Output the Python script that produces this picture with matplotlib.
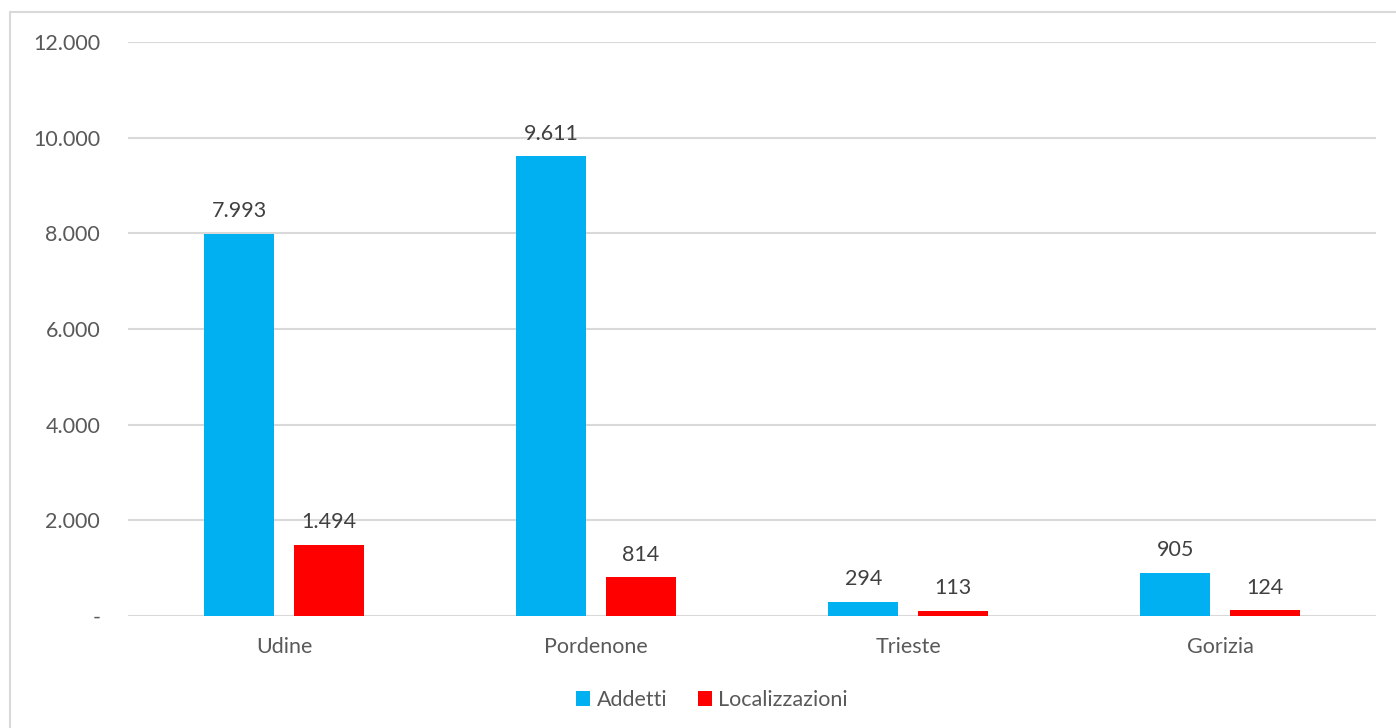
import matplotlib.pyplot as plt
import numpy as np
from matplotlib.patches import Rectangle

plt.rcParams['font.family'] = ['Lato', 'DejaVu Sans']

categories = ['Udine', 'Pordenone', 'Trieste', 'Gorizia']
addetti = [7993, 9611, 294, 905]
localizzazioni = [1494, 814, 113, 124]
yticks = [0, 2000, 4000, 6000, 8000, 10000, 12000]
ytick_labels = ['-', '2.000', '4.000', '6.000', '8.000', '10.000', '12.000']


def fmt(v):
    return f'{v:,}'.replace(',', '.')


fig = plt.figure(figsize=(13.96, 7.28), dpi=100)
ax = fig.add_axes([128 / 1396, 1 - 616 / 728, 1248 / 1396, 574 / 728])

# outer chart border (only top and left visible in the reference)
fig.patches.append(Rectangle((10 / 1396, -0.1), 1.2, 1 - 12 / 728 + 0.1,
                             transform=fig.transFigure, fill=False,
                             edgecolor='#d9d9d9', linewidth=1.5))

x = np.arange(len(categories))
w = 0.224
off = 0.143
b1 = ax.bar(x - off, addetti, w, color='#00b0f0', label='Addetti')
b2 = ax.bar(x + off, localizzazioni, w, color='#ff0000', label='Localizzazioni')

for bars, vals in ((b1, addetti), (b2, localizzazioni)):
    for r, v in zip(bars, vals):
        ax.annotate(fmt(v), (r.get_x() + r.get_width() / 2, v),
                    xytext=(0, 9), textcoords='offset points',
                    ha='center', va='bottom', fontsize=15.5, color='#404040')

ax.set_xlim(-0.5, 3.5)
ax.set_ylim(0, 12000)
ax.set_yticks(yticks)
ax.set_yticklabels(ytick_labels)
ax.set_xticks(x)
ax.set_xticklabels(categories)
ax.yaxis.grid(True, color='#d9d9d9', linewidth=1.5)
ax.set_axisbelow(True)
for s in ax.spines.values():
    s.set_visible(False)
ax.tick_params(axis='both', length=0, labelsize=15.5, labelcolor='#595959')
ax.tick_params(axis='y', pad=20)
ax.tick_params(axis='x', pad=15)
for lbl in ax.get_yticklabels():
    lbl.set_horizontalalignment('right')

fig.legend(loc='center', bbox_to_anchor=(712 / 1396, 1 - 700 / 728), ncol=2,
           frameon=False, fontsize=15.5, labelcolor='#595959',
           handlelength=0.65, handleheight=0.65, handletextpad=0.3,
           columnspacing=1.4)

fig.savefig('out.png', dpi=100)
